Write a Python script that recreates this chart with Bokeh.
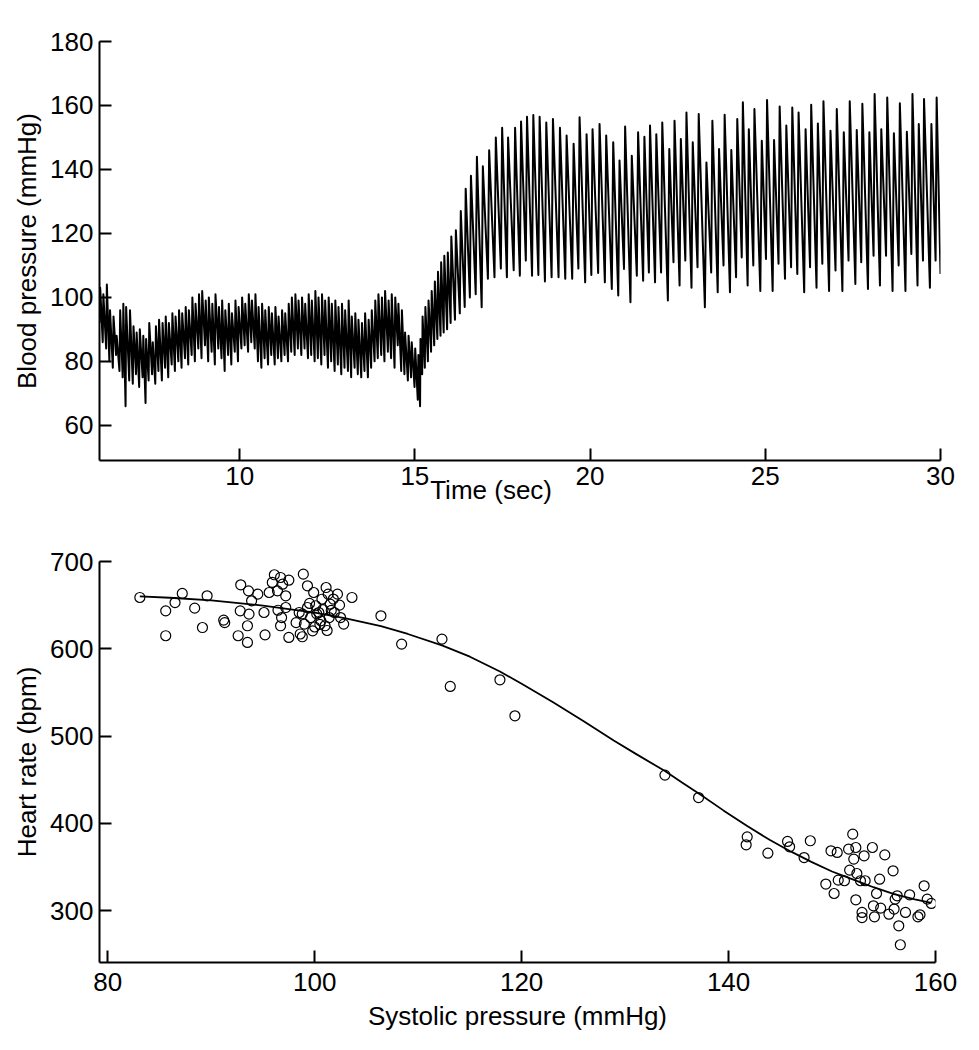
from bokeh.plotting import figure
from bokeh.models import Range1d, FixedTicker
from bokeh.layouts import column
from bokeh.embed import file_html
from bokeh.resources import INLINE

# ---------------- Top panel: blood pressure trace (beat by beat) ----------------
# time of each systolic peak (s)
beat_t = [
    6.02, 6.11, 6.21, 6.30, 6.40, 6.49, 6.59, 6.68, 6.76, 6.87,
    6.97, 7.06, 7.15, 7.25, 7.33, 7.42, 7.52, 7.61, 7.70, 7.80,
    7.89, 7.98, 8.08, 8.17, 8.27, 8.36, 8.46, 8.55, 8.65, 8.74,
    8.84, 8.93, 9.03, 9.12, 9.22, 9.31, 9.41, 9.50, 9.59, 9.69,
    9.78, 9.88, 9.97, 10.07, 10.16, 10.26, 10.35, 10.45, 10.54, 10.64,
    10.73, 10.83, 10.92, 11.02, 11.11, 11.21, 11.30, 11.40, 11.49, 11.59,
    11.68, 11.78, 11.87, 11.97, 12.06, 12.16, 12.25, 12.35, 12.44, 12.54,
    12.63, 12.73, 12.82, 12.92, 13.01, 13.11, 13.20, 13.30, 13.39, 13.49,
    13.58, 13.68, 13.77, 13.87, 13.96, 14.06, 14.15, 14.25, 14.34, 14.44,
    14.53, 14.63, 14.72, 14.82, 14.91, 15.01, 15.10, 15.16,
    15.22, 15.30, 15.39, 15.48, 15.57, 15.66, 15.75, 15.84, 15.94, 16.04,
    16.17, 16.31, 16.45, 16.60, 16.77,
    16.94, 17.12, 17.31, 17.49, 17.66, 17.86, 18.03, 18.20, 18.38, 18.56,
    18.75, 18.94, 19.14, 19.33, 19.53, 19.70, 19.90, 20.07, 20.27, 20.46,
    20.66, 20.84, 21.00, 21.19, 21.37, 21.55, 21.71, 21.89, 22.06, 22.26,
    22.41, 22.59, 22.75, 22.93, 23.10, 23.32, 23.49, 23.68, 23.84, 24.03,
    24.20, 24.36, 24.53, 24.69, 24.90, 25.05, 25.25, 25.41, 25.60, 25.77,
    25.95, 26.15, 26.31, 26.50, 26.66, 26.86, 27.04, 27.24, 27.41, 27.61,
    27.77, 27.97, 28.12, 28.31, 28.48, 28.67, 28.84, 29.04, 29.20, 29.38,
    29.53, 29.74, 29.89,
]
# systolic peak of each beat (mmHg)
sys_bp = [
    103, 101, 104, 96, 94, 88, 96, 98, 97, 96,
    91, 89, 90, 88, 87, 92, 86, 91, 93, 92,
    94, 92, 95, 94, 96, 95, 97, 96, 100, 98,
    101, 102, 99, 100, 98, 101, 97, 99, 96, 98,
    95, 99, 97, 100, 98, 101, 99, 101, 97, 98,
    96, 97, 95, 97, 94, 96, 95, 98, 100, 101,
    99, 100, 98, 101, 99, 102, 100, 101, 99, 100,
    98, 99, 97, 98, 96, 99, 94, 95, 93, 92,
    95, 93, 96, 99, 101, 100, 102, 99, 101, 100,
    98, 96, 89, 88, 86, 84, 82, 87,
    94, 97, 99, 102, 105, 108, 111, 113, 114, 119,
    121, 127, 134, 138, 144,
    141, 146, 150, 153, 150, 153, 155, 156.5, 157, 156.5,
    154.7, 155.8, 153, 150.6, 148, 156.3, 151, 152.6, 154.2, 150.6,
    148.5, 142.8, 153.4, 144.3, 151.6, 150.2, 153.7, 151, 154.7, 146.4,
    155.2, 149.5, 157.8, 148.5, 157.3, 142.2, 155.2, 146.4, 157.1, 146.1,
    155.8, 161, 152.6, 158.9, 149, 161.7, 149.2, 159.7, 153.7, 159.4,
    157.8, 152.6, 160.2, 154.4, 161.3, 152.1, 158.9, 151.6, 161.3, 152.3,
    160.5, 151.6, 163.6, 152.6, 162.5, 151.3, 160.7, 151.8, 163.6, 154.2,
    162, 154.2, 162.5,
]
# diastolic trough just before each peak (mmHg)
dia_bp = [
    92, 86, 84, 80, 78, 82, 77, 75, 66, 74,
    73, 76, 72, 75, 67, 74, 76, 73, 77, 74,
    78, 75, 79, 77, 80, 78, 81, 79, 82, 80,
    84, 81, 85, 80, 83, 79, 84, 81, 77, 82,
    79, 83, 80, 84, 85, 83, 86, 84, 80, 78,
    81, 79, 82, 79, 81, 80, 82, 80, 83, 82,
    84, 82, 84, 81, 82, 80, 81, 79, 82, 78,
    80, 77, 79, 76, 78, 77, 75, 78, 76, 75,
    77, 75, 78, 80, 81, 82, 80, 83, 81, 78,
    85, 77, 76, 74, 75, 72, 68, 66,
    76, 78, 80, 83, 85, 87, 88, 89, 90, 92,
    93, 95, 97, 100, 101,
    96.9, 105.8, 106.3, 109, 106.3, 108.5, 106.8, 111.5, 106.8, 107,
    105, 106.3, 106.3, 105.8, 105.8, 109, 104.7, 107, 107.6, 104.7,
    102.6, 100.6, 108.9, 98.5, 106.8, 105.2, 107.8, 104.7, 107.8, 99,
    111, 103.7, 111.5, 103, 109.4, 96.9, 107.8, 101.6, 110, 101.6,
    106.3, 112.5, 103.7, 110, 102, 112, 102, 110.5, 105.8, 109.4,
    107.3, 101.6, 109.4, 103, 110.5, 102, 108.4, 102, 111.5, 104.2,
    111, 102.6, 113, 103.7, 113, 102, 110, 102, 113.6, 103.7,
    111.5, 103, 111.5,
]
trace_start_t = 6.0
trace_end_t, trace_end_bp = 30.0, 107.3

# ---------------- Bottom panel: HR vs systolic pressure ----------------
sbp = [
    83.1, 85.6, 85.6, 86.5, 87.2, 88.4, 89.15, 89.6, 91.2, 91.3,
    92.85, 92.8, 92.6, 93.5, 93.5, 93.65, 93.6, 93.9, 94.5, 95.1,
    95.2, 95.6, 96.1, 95.9, 96.4, 96.7, 96.9, 97.2, 97.5, 96.45,
    96.8, 96.7, 97.5, 97.2, 98.2, 98.5, 98.9, 99.3, 99.0, 99.8,
    99.3, 99.6, 100.1, 99.9, 100.4, 100.6, 101.1, 101.3, 101.0, 101.5,
    101.9, 101.4, 100.7, 102.2, 102.5, 102.8, 103.6, 98.6, 101.2, 100.2,
    100.8, 101.6, 99.5, 100.5, 101.8, 102.4, 100.0, 98.8, 98.8,
    106.4, 108.4, 112.3, 113.1, 117.9, 119.35, 133.85, 137.1,
    141.8, 141.7, 143.8, 145.7, 145.9, 147.3, 147.9, 149.4, 149.9, 150.2,
    150.5, 150.6, 151.2, 151.6, 151.7, 152.0, 152.3, 152.1, 152.4, 152.3,
    152.75, 152.9, 152.9, 153.1, 153.2, 153.9, 154.0, 154.1, 154.3, 154.6,
    154.7, 155.1, 155.5, 155.9, 156.0, 156.1, 156.3, 156.45, 156.6, 157.1,
    157.5, 158.3, 158.5, 158.9, 159.2, 159.6,
]
hr = [
    658.8, 643.5, 615, 653, 663.4, 646.6, 624.4, 660.7, 632.9, 630,
    673.3, 643.5, 615, 607.3, 626.4, 639.7, 666.4, 655, 662.6, 641.6,
    616, 664.5, 684.8, 676, 666.4, 681.7, 674, 660.7, 678.6, 644.2,
    635.8, 626.4, 613, 647.3, 630, 641.6, 685.5, 672.2, 628.3, 620.6,
    647.3, 635.8, 649.3, 664.5, 641.6, 632, 670.2, 662.6, 626.4, 651.1,
    641.6, 635.8, 656.8, 662.6, 635.8, 628.3, 658.8, 617, 621, 640,
    645, 644, 652, 628, 657, 650, 625, 640, 613.8,
    637.8, 605.4, 611.1, 556.9, 564.5, 523.3, 455.4, 429.7,
    384.7, 375.6, 366, 379.4, 373.3, 361, 380.2, 330.6, 368.7, 319.8,
    366.8, 335.1, 334.4, 370.6, 346.6, 387.8, 372.5, 359.2, 342.7, 312.6,
    334.4, 298.1, 292.3, 363, 334.4, 372.5, 305.7, 293.1, 319.8, 336.2,
    303.1, 364, 296.1, 345.8, 302, 313.4, 317.2, 282.8, 261.1, 298.1,
    318.3, 293.1, 295.4, 328.6, 313.4, 308.4,
]
# fitted curve
curve_sbp = [83.1, 86, 90, 95, 100, 103, 106.4, 109, 112.3, 115,
             117.9, 120, 123, 126, 128.9, 131, 133.85, 135.5, 137.3, 139.5,
             141.8, 144, 146, 148, 150, 152, 154, 156, 158, 159.6]
curve_hr = [660, 658.5, 655.5, 649.5, 641.5, 635, 626, 617, 604, 591,
            574, 560, 539, 517, 495, 480, 460, 447, 433, 415,
            397, 381, 368, 356, 345, 336, 327, 319, 313, 309]

top_xticks = [10, 15, 20, 25, 30]
top_yticks = [60, 80, 100, 120, 140, 160, 180]
bot_xticks = [80, 100, 120, 140, 160]
bot_yticks = [300, 400, 500, 600, 700]

FONT = "Liberation Sans"
FS = "26px"
NBSP = "\u00a0"


def style(p, xlabel, ylabel, xl_standoff, xt_standoff):
    p.outline_line_color = None
    p.xgrid.visible = False
    p.ygrid.visible = False
    p.background_fill_color = "white"
    p.border_fill_color = "white"
    for ax in (p.xaxis[0], p.yaxis[0]):
        ax.axis_line_width = 2
        ax.axis_line_color = "black"
        ax.major_tick_line_width = 2
        ax.major_tick_line_color = "black"
        ax.major_tick_in = 12
        ax.major_tick_out = 0
        ax.minor_tick_line_color = None
        ax.major_label_text_font = FONT
        ax.major_label_text_font_size = FS
        ax.major_label_text_color = "black"
        ax.axis_label_text_font = FONT
        ax.axis_label_text_font_size = FS
        ax.axis_label_text_font_style = "normal"
        ax.axis_label_text_color = "black"
    p.xaxis[0].axis_label = xlabel
    p.xaxis[0].axis_label_standoff = xl_standoff
    p.yaxis[0].axis_label = ylabel
    p.xaxis[0].major_label_standoff = xt_standoff
    p.yaxis[0].major_label_standoff = 6
    p.yaxis[0].axis_label_standoff = 5


# top figure (frame: x 99..940, y 41..460)
p1 = figure(frame_width=841, frame_height=419, output_backend="svg",
            toolbar_location=None,
            x_range=Range1d(6, 30), y_range=Range1d(49, 180),
            min_border_left=99, min_border_right=28, min_border_top=41,
            min_border_bottom=70)
# label sits left of the frame centre in the original: pad with trailing spaces
style(p1, "Time (sec)" + NBSP * 8, "Blood pressure (mmHg)", -13, 6)
p1.xaxis[0].ticker = FixedTicker(ticks=top_xticks)
p1.yaxis[0].ticker = FixedTicker(ticks=top_yticks)

xs, ys = [], []
for i in range(len(beat_t)):
    if i == 0:
        tt = trace_start_t
    else:
        tt = beat_t[i] - 0.2 * (beat_t[i] - beat_t[i - 1])
    xs.append(tt)
    ys.append(dia_bp[i])
    xs.append(beat_t[i])
    ys.append(sys_bp[i])
xs.append(trace_end_t)
ys.append(trace_end_bp)
p1.line(xs, ys, line_color="black", line_width=2.0, line_join="round")

# bottom figure (frame: x 99..935, y 561..962)
p2 = figure(frame_width=836, frame_height=401, output_backend="svg",
            toolbar_location=None,
            x_range=Range1d(79.2, 160), y_range=Range1d(240.8, 700),
            min_border_left=99, min_border_right=33, min_border_top=31,
            min_border_bottom=78)
style(p2, "Systolic pressure (mmHg)", "Heart rate (bpm)", 7, 10)
p2.xaxis[0].ticker = FixedTicker(ticks=bot_xticks)
p2.yaxis[0].ticker = FixedTicker(ticks=bot_yticks)

p2.line(curve_sbp, curve_hr, line_color="black", line_width=1.8)
p2.scatter(sbp, hr, marker="circle", size=10, fill_color=None,
           line_color="black", line_width=1.2)

layout = column(p1, p2, spacing=0)
open("out.html", "w").write(file_html(layout, INLINE))
